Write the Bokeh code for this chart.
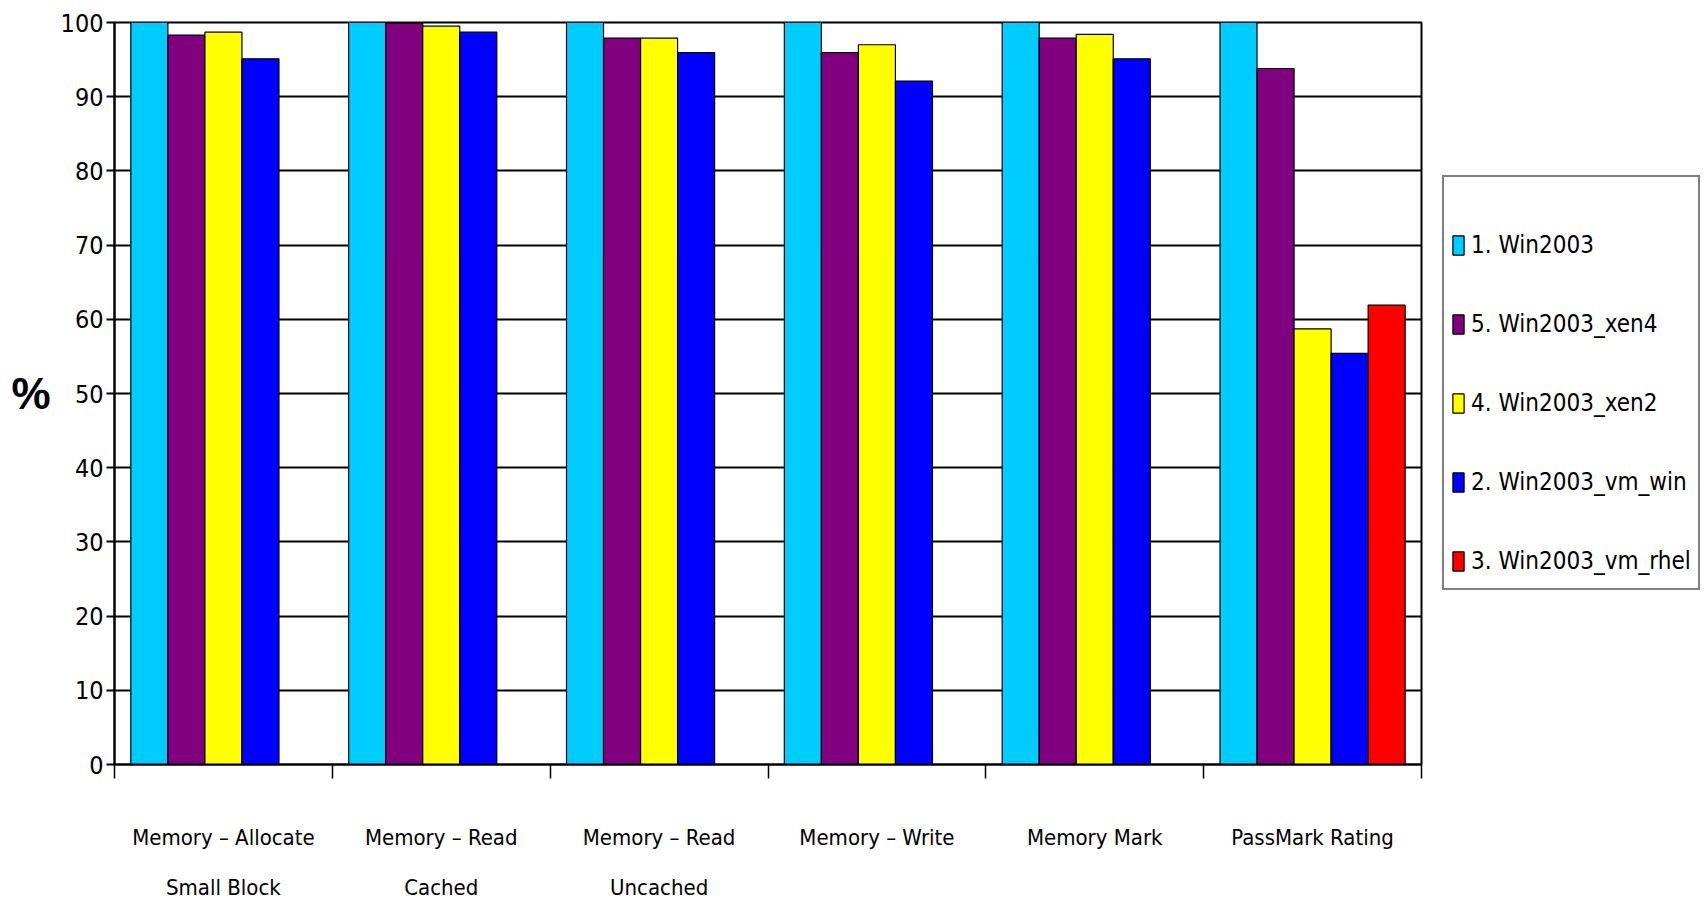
import numpy as np
from bokeh.plotting import figure
from bokeh.models import FixedTicker, LinearAxis, Legend, LegendItem, Range1d, ColumnDataSource
from bokeh.embed import file_html
from bokeh.resources import INLINE

categories_line1 = ["Memory \u2013 Allocate", "Memory \u2013 Read", "Memory \u2013 Read",
                    "Memory \u2013 Write", "Memory Mark", "PassMark Rating"]
categories_line2 = ["Small Block", "Cached", "Uncached", "", "", ""]

series_names = ["1. Win2003", "5. Win2003_xen4", "4. Win2003_xen2",
                "2. Win2003_vm_win", "3. Win2003_vm_rhel"]
series_colors = ["#00CCFF", "#800080", "#FFFF00", "#0000FF", "#FF0000"]

win2003 = [100, 100, 100, 100, 100, 100]
win2003_xen4 = [98.3, 99.9, 97.9, 95.95, 97.9, 93.8]
win2003_xen2 = [98.7, 99.5, 97.9, 97.0, 98.4, 58.7]
win2003_vm_win = [95.1, 98.7, 95.95, 92.1, 95.1, 55.4]
win2003_vm_rhel = [None, None, None, None, None, 61.9]

series_values = [win2003, win2003_xen4, win2003_xen2, win2003_vm_win, win2003_vm_rhel]
y_ticks = list(range(0, 101, 10))

FONT = "'DejaVu Sans Condensed', 'Liberation Sans Narrow', sans-serif"

n = len(categories_line1)
p = figure(width=1704, height=905, output_backend="svg", toolbar_location=None,
           x_range=Range1d(0, n), y_range=Range1d(0, 100),
           frame_width=1307, frame_height=742,
           min_border_left=114, min_border_top=22, min_border_bottom=141, min_border_right=283,
           x_axis_type=None)
p.background_fill_color = "white"
p.border_fill_color = "white"
p.outline_line_color = "black"
p.outline_line_width = 2

bar_w = 0.17
offsets = [(-2 + k) * bar_w for k in range(5)]
renderers = []
centers = [i + 0.5 for i in range(n)]
for k, vals in enumerate(series_values):
    xs = [c + offsets[k] for c in centers]
    tops = [np.nan if v is None else v for v in vals]
    src = ColumnDataSource(dict(x=xs, top=tops))
    r = p.vbar(x="x", top="top", bottom=0, width=bar_w, source=src,
               fill_color=series_colors[k], line_color="black", line_width=1.2)
    renderers.append(r)

# y axis
p.yaxis.ticker = FixedTicker(ticks=y_ticks)
p.yaxis.axis_line_color = "black"
p.yaxis.axis_line_width = 2
p.yaxis.major_tick_in = 0
p.yaxis.major_tick_out = 8
p.yaxis.major_tick_line_width = 2
p.yaxis.minor_tick_line_color = None
p.yaxis.major_label_text_font = FONT
p.yaxis.major_label_text_font_size = "25px"
p.yaxis.major_label_text_color = "black"
p.yaxis.major_label_standoff = 3
p.yaxis.axis_label = "%"
p.yaxis.axis_label_text_font = "'Liberation Sans', Arial, sans-serif"
p.yaxis.axis_label_text_font_style = "bold"
p.yaxis.axis_label_text_font_size = "44px"
p.yaxis.axis_label_text_color = "black"
p.yaxis.axis_label_orientation = "horizontal"
p.yaxis.axis_label_standoff = 7

p.ygrid.ticker = FixedTicker(ticks=y_ticks)
p.ygrid.grid_line_color = "black"
p.ygrid.grid_line_width = 2
p.xgrid.grid_line_color = None

# x axis line 1 (with boundary ticks)
ax1 = LinearAxis(ticker=FixedTicker(ticks=centers, minor_ticks=list(range(n + 1))))
ax1.major_label_overrides = {c: categories_line1[i] for i, c in enumerate(centers)}
ax1.major_tick_out = 0
ax1.major_tick_in = 0
ax1.minor_tick_out = 14
ax1.minor_tick_in = 0
ax1.minor_tick_line_color = "black"
ax1.minor_tick_line_width = 1.5
ax1.axis_line_color = "black"
ax1.axis_line_width = 2
ax1.major_label_text_font = FONT
ax1.major_label_text_font_size = "22px"
ax1.major_label_text_color = "black"
ax1.major_label_standoff = 46
p.add_layout(ax1, "below")

ax2 = LinearAxis(ticker=FixedTicker(ticks=centers))
ax2.major_label_overrides = {c: categories_line2[i] for i, c in enumerate(centers)}
ax2.major_tick_out = 0
ax2.major_tick_in = 0
ax2.minor_tick_line_color = None
ax2.axis_line_color = None
ax2.major_label_text_font = FONT
ax2.major_label_text_font_size = "22px"
ax2.major_label_text_color = "black"
ax2.major_label_standoff = 22
p.add_layout(ax2, "below")

legend = Legend(items=[LegendItem(label=series_names[k], renderers=[renderers[k]]) for k in range(5)],
                location=(21, 174))
legend.title = " "
legend.title_text_font_size = "14px"
legend.title_standoff = 25
legend.label_text_font = FONT
legend.label_text_font_size = "24px"
legend.label_text_color = "black"
legend.glyph_width = 14
legend.glyph_height = 24
legend.label_height = 40
legend.spacing = 39
legend.padding = 7
legend.label_standoff = 6
legend.border_line_color = "black"
legend.border_line_width = 2
legend.background_fill_color = "white"
p.add_layout(legend, "right")

open("out.html", "w").write(file_html(p, INLINE))
